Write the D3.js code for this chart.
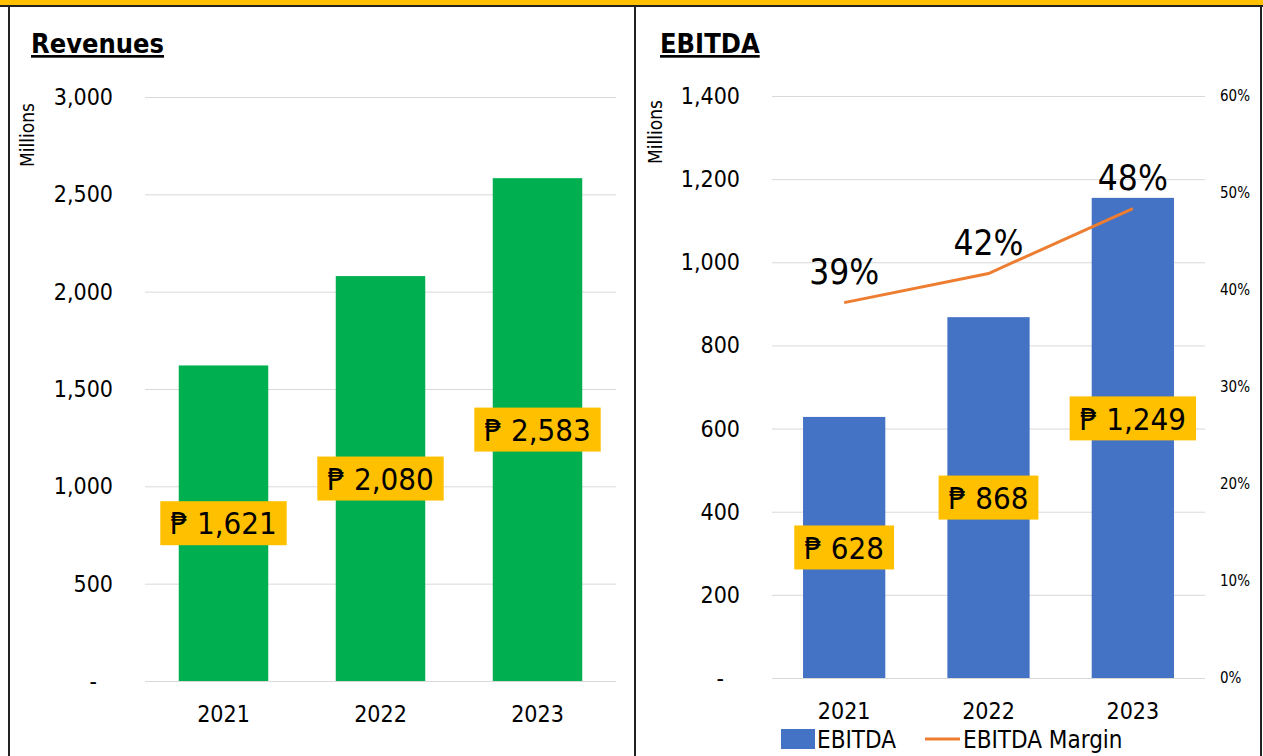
<!DOCTYPE html>
<html>
<head>
<meta charset="utf-8">
<script src="https://cdn.jsdelivr.net/npm/d3@7"></script>
<style>
  body { margin: 0; background: #fff; }
  text { font-family: "DejaVu Sans Condensed", "DejaVu Sans", sans-serif; fill: #000; }
</style>
</head>
<body>
<div id="chart"></div>
<script>
const years = ["2021", "2022", "2023"];
const revenues = [1621, 2080, 2583];
const revenueTicks = [0, 500, 1000, 1500, 2000, 2500, 3000];
const ebitda = [628, 868, 1155];
const ebitdaLabels = [628, 868, 1249];
const margins = [0.387, 0.417, 0.484];
const ebitdaTicks = [0, 200, 400, 600, 800, 1000, 1200, 1400];
const marginTicks = [0, 0.1, 0.2, 0.3, 0.4, 0.5, 0.6];

(function() {
  const W = 1263, H = 756;
  const peso = d3.format(",");
  const pct = d3.format(".0%");

  const svg = d3.select("#chart")
    .append("svg")
      .attr("width", W)
      .attr("height", H);

  // frame
  svg.append("rect").attr("x", 0).attr("y", 0).attr("width", W).attr("height", 6).attr("fill", "#FFC000");
  svg.append("line").attr("x1", 0).attr("x2", W).attr("y1", 6).attr("y2", 6).attr("stroke", "#222").attr("stroke-width", 2);
  [9, 635, 1261].forEach(x => {
    svg.append("line").attr("x1", x).attr("x2", x).attr("y1", 6).attr("y2", H)
      .attr("stroke", "#222").attr("stroke-width", 2);
  });

  function panel(opt) {
    const g = svg.append("g");
    const x = d3.scaleBand().domain(years).range(opt.xRange)
      .paddingInner(0.43).paddingOuter(0.215);
    const y = d3.scaleLinear().domain(opt.yDomain).range(opt.yRange);

    g.append("text")
      .attr("x", opt.titleX).attr("y", 53)
      .style("font-size", "27px").style("font-weight", "bold")
      .style("text-decoration", "underline")
      .text(opt.title);

    g.append("text")
      .attr("transform", `translate(${opt.unitX}, ${opt.unitY}) rotate(-90)`)
      .attr("text-anchor", "middle")
      .style("font-size", "19px")
      .text("Millions");

    // gridlines
    g.selectAll(".grid")
      .data(opt.ticks)
      .enter().append("line")
        .attr("x1", opt.xRange[0]).attr("x2", opt.xRange[1])
        .attr("y1", d => y(d) + 0.5).attr("y2", d => y(d) + 0.5)
        .attr("stroke", "#d9d9d9").attr("stroke-width", 1);

    // tick labels
    g.selectAll(".tick")
      .data(opt.ticks)
      .enter().append("text")
        .attr("x", d => d === 0 ? opt.xRange[0] - 48 : opt.xRange[0] - 32)
        .attr("y", d => y(d))
        .attr("dy", "0.35em")
        .attr("text-anchor", "end")
        .style("font-size", "23px")
        .text(d => d === 0 ? "-" : peso(d));

    g.selectAll(".bar")
      .data(opt.values)
      .enter().append("rect")
        .attr("x", (d, i) => x(years[i]))
        .attr("y", d => y(d))
        .attr("width", x.bandwidth())
        .attr("height", d => y(0) - y(d))
        .attr("fill", opt.color);

    g.selectAll(".year")
      .data(years)
      .enter().append("text")
        .attr("x", d => x(d) + x.bandwidth() / 2)
        .attr("y", opt.yearY)
        .attr("text-anchor", "middle")
        .style("font-size", "23px")
        .text(d => d);

    const lab = g.selectAll(".lab")
      .data(opt.labels)
      .enter().append("g")
        .attr("transform", (d, i) => `translate(${x(years[i]) + x.bandwidth() / 2}, ${y(d / 2)})`);
    lab.append("text")
      .attr("text-anchor", "middle")
      .attr("dy", "0.36em")
      .style("font-size", "31px")
      .text(d => "\u20B1 " + peso(d))
      .each(function() {
        const b = this.getBBox();
        d3.select(this.parentNode).insert("rect", "text")
          .attr("x", b.x - 10).attr("y", -22)
          .attr("width", b.width + 20).attr("height", 44)
          .attr("fill", "#FFC000");
      });

    return { g, x, y };
  }

  panel({
    title: "Revenues", titleX: 31, unitX: 34, unitY: 135,
    xRange: [145, 616], yRange: [681, 97], yDomain: [0, 3000],
    ticks: revenueTicks, values: revenues, labels: revenues,
    color: "#00B050", yearY: 722
  });

  const p = panel({
    title: "EBITDA", titleX: 660, unitX: 662, unitY: 132,
    xRange: [772, 1205], yRange: [678, 96], yDomain: [0, 1400],
    ticks: ebitdaTicks, values: ebitda, labels: ebitdaLabels,
    color: "#4472C4", yearY: 719
  });

  const y2 = d3.scaleLinear().domain([0, 0.6]).range([678, 96]);
  const cx = d => p.x(d) + p.x.bandwidth() / 2;

  p.g.selectAll(".pct")
    .data(marginTicks)
    .enter().append("text")
      .attr("x", 1220)
      .attr("y", d => y2(d))
      .attr("dy", "0.35em")
      .style("font-size", "15px")
      .text(d => pct(d));

  const line = d3.line()
    .x((d, i) => cx(years[i]))
    .y(d => y2(d));

  p.g.append("path")
    .attr("d", line(margins))
    .attr("fill", "none")
    .attr("stroke", "#ED7D31")
    .attr("stroke-width", 3);

  p.g.selectAll(".mlab")
    .data(margins)
    .enter().append("text")
      .attr("x", (d, i) => cx(years[i]))
      .attr("y", d => y2(d) - 19)
      .attr("text-anchor", "middle")
      .style("font-size", "35px")
      .text(d => pct(d));

  // legend
  const legend = p.g.append("g");
  legend.append("rect").attr("x", 781).attr("y", 729).attr("width", 34).attr("height", 20).attr("fill", "#4472C4");
  legend.append("text").attr("x", 817).attr("y", 748).style("font-size", "24px").text("EBITDA");
  legend.append("line").attr("x1", 925).attr("x2", 960).attr("y1", 739).attr("y2", 739)
    .attr("stroke", "#ED7D31").attr("stroke-width", 3);
  legend.append("text").attr("x", 963).attr("y", 748).style("font-size", "24px").text("EBITDA Margin");
})();
</script>
</body>
</html>
